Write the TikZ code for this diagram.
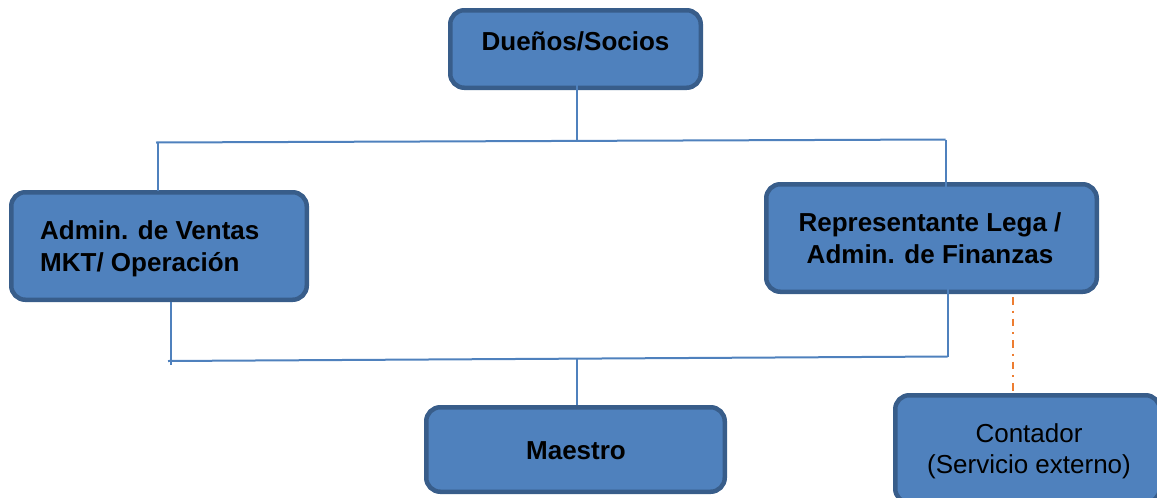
\documentclass[tikz,border=0pt]{standalone}
\usepackage{fontspec}
\setmainfont{Liberation Sans}
\definecolor{boxfill}{HTML}{4F81BD}
\definecolor{boxedge}{HTML}{385D8A}
\definecolor{linkblue}{HTML}{4F81BD}
\definecolor{extorange}{HTML}{ED7D31}

\begin{document}
\begin{tikzpicture}[x=1pt,y=-1pt,
    orgbox/.style={draw=boxedge,fill=boxfill,line width=4.5pt,rounded corners=14pt,inner sep=0pt},
    link/.style={linkblue,line width=2pt},
    extlink/.style={extorange,line width=2pt,dash pattern=on 7.5pt off 6pt on 2pt off 6pt},
    lbl/.style={inner sep=0pt,font=\fontsize{26}{31.5}\selectfont\bfseries},
    lblthin/.style={inner sep=0pt,font=\fontsize{26}{31}\selectfont}]
    \useasboundingbox (0,0) rectangle (1157,498);

    % The boxes
    \node[orgbox,minimum width=250.5pt,minimum height=77.5pt] (duenos) at (575.5,49) {};
    \node[orgbox,minimum width=295.5pt,minimum height=107.5pt] (ventas) at (159,246) {};
    \node[orgbox,minimum width=330.5pt,minimum height=107.5pt] (legal) at (931.5,238) {};
    \node[orgbox,minimum width=298.5pt,minimum height=84.5pt] (maestro) at (575.5,449.5) {};
    \node[orgbox,minimum width=264.5pt,minimum height=107.5pt] (contador) at (1027.5,449) {};

    % Coordinates of the bars
    \coordinate (upL) at (156,142.5);
    \coordinate (upR) at (945.5,139.5);
    \coordinate (upM) at (576.5,141);
    \coordinate (upLv) at (158,142.5);
    \coordinate (loL) at (168,361);
    \coordinate (loR) at (947.5,356.5);
    \coordinate (loM) at (576.5,358.5);
    \coordinate (loLv) at (171,365);
    \coordinate (extTop) at (1013,297);

    % Upper bar
    \draw[link] (upL) -- (upR);
    \draw[link] (upM) -- (upM |- duenos.south) -- ++(0,-14);
    \draw[link] (upLv) -- (upLv |- ventas.north) -- ++(0,1);
    \draw[link] (upR) -- (upR |- legal.north) -- ++(0,13);

    % Lower bar
    \draw[link] (loL) -- (loR);
    \draw[link] (ventas.south -| loLv) -- (loLv);
    \draw[link] (loR) -- (loR |- legal.south) -- ++(0,-19);
    \draw[link] (loM) -- (loM |- maestro.north);

    % External service
    \draw[extlink] (extTop) -- (extTop |- contador.north);

    % The labels (base = last line)
    \node[lbl,anchor=base] (duenosTxt) at (575.5,50) {Dueños/Socios};
    \node[lbl,anchor=base west,align=left] (ventasTxt) at (40,271) {Admin. de Ventas\\MKT/ Operación};
    \node[lbl,anchor=base,align=center] (legalTxt) at (930,263) {Representante Lega /\\Admin. de Finanzas};
    \node[lbl,anchor=base] (maestroTxt) at (576,459) {Maestro};
    \node[lblthin,anchor=base,align=center] (contadorTxt) at (1029,473) {Contador\\(Servicio externo)};
\end{tikzpicture}
\end{document}
